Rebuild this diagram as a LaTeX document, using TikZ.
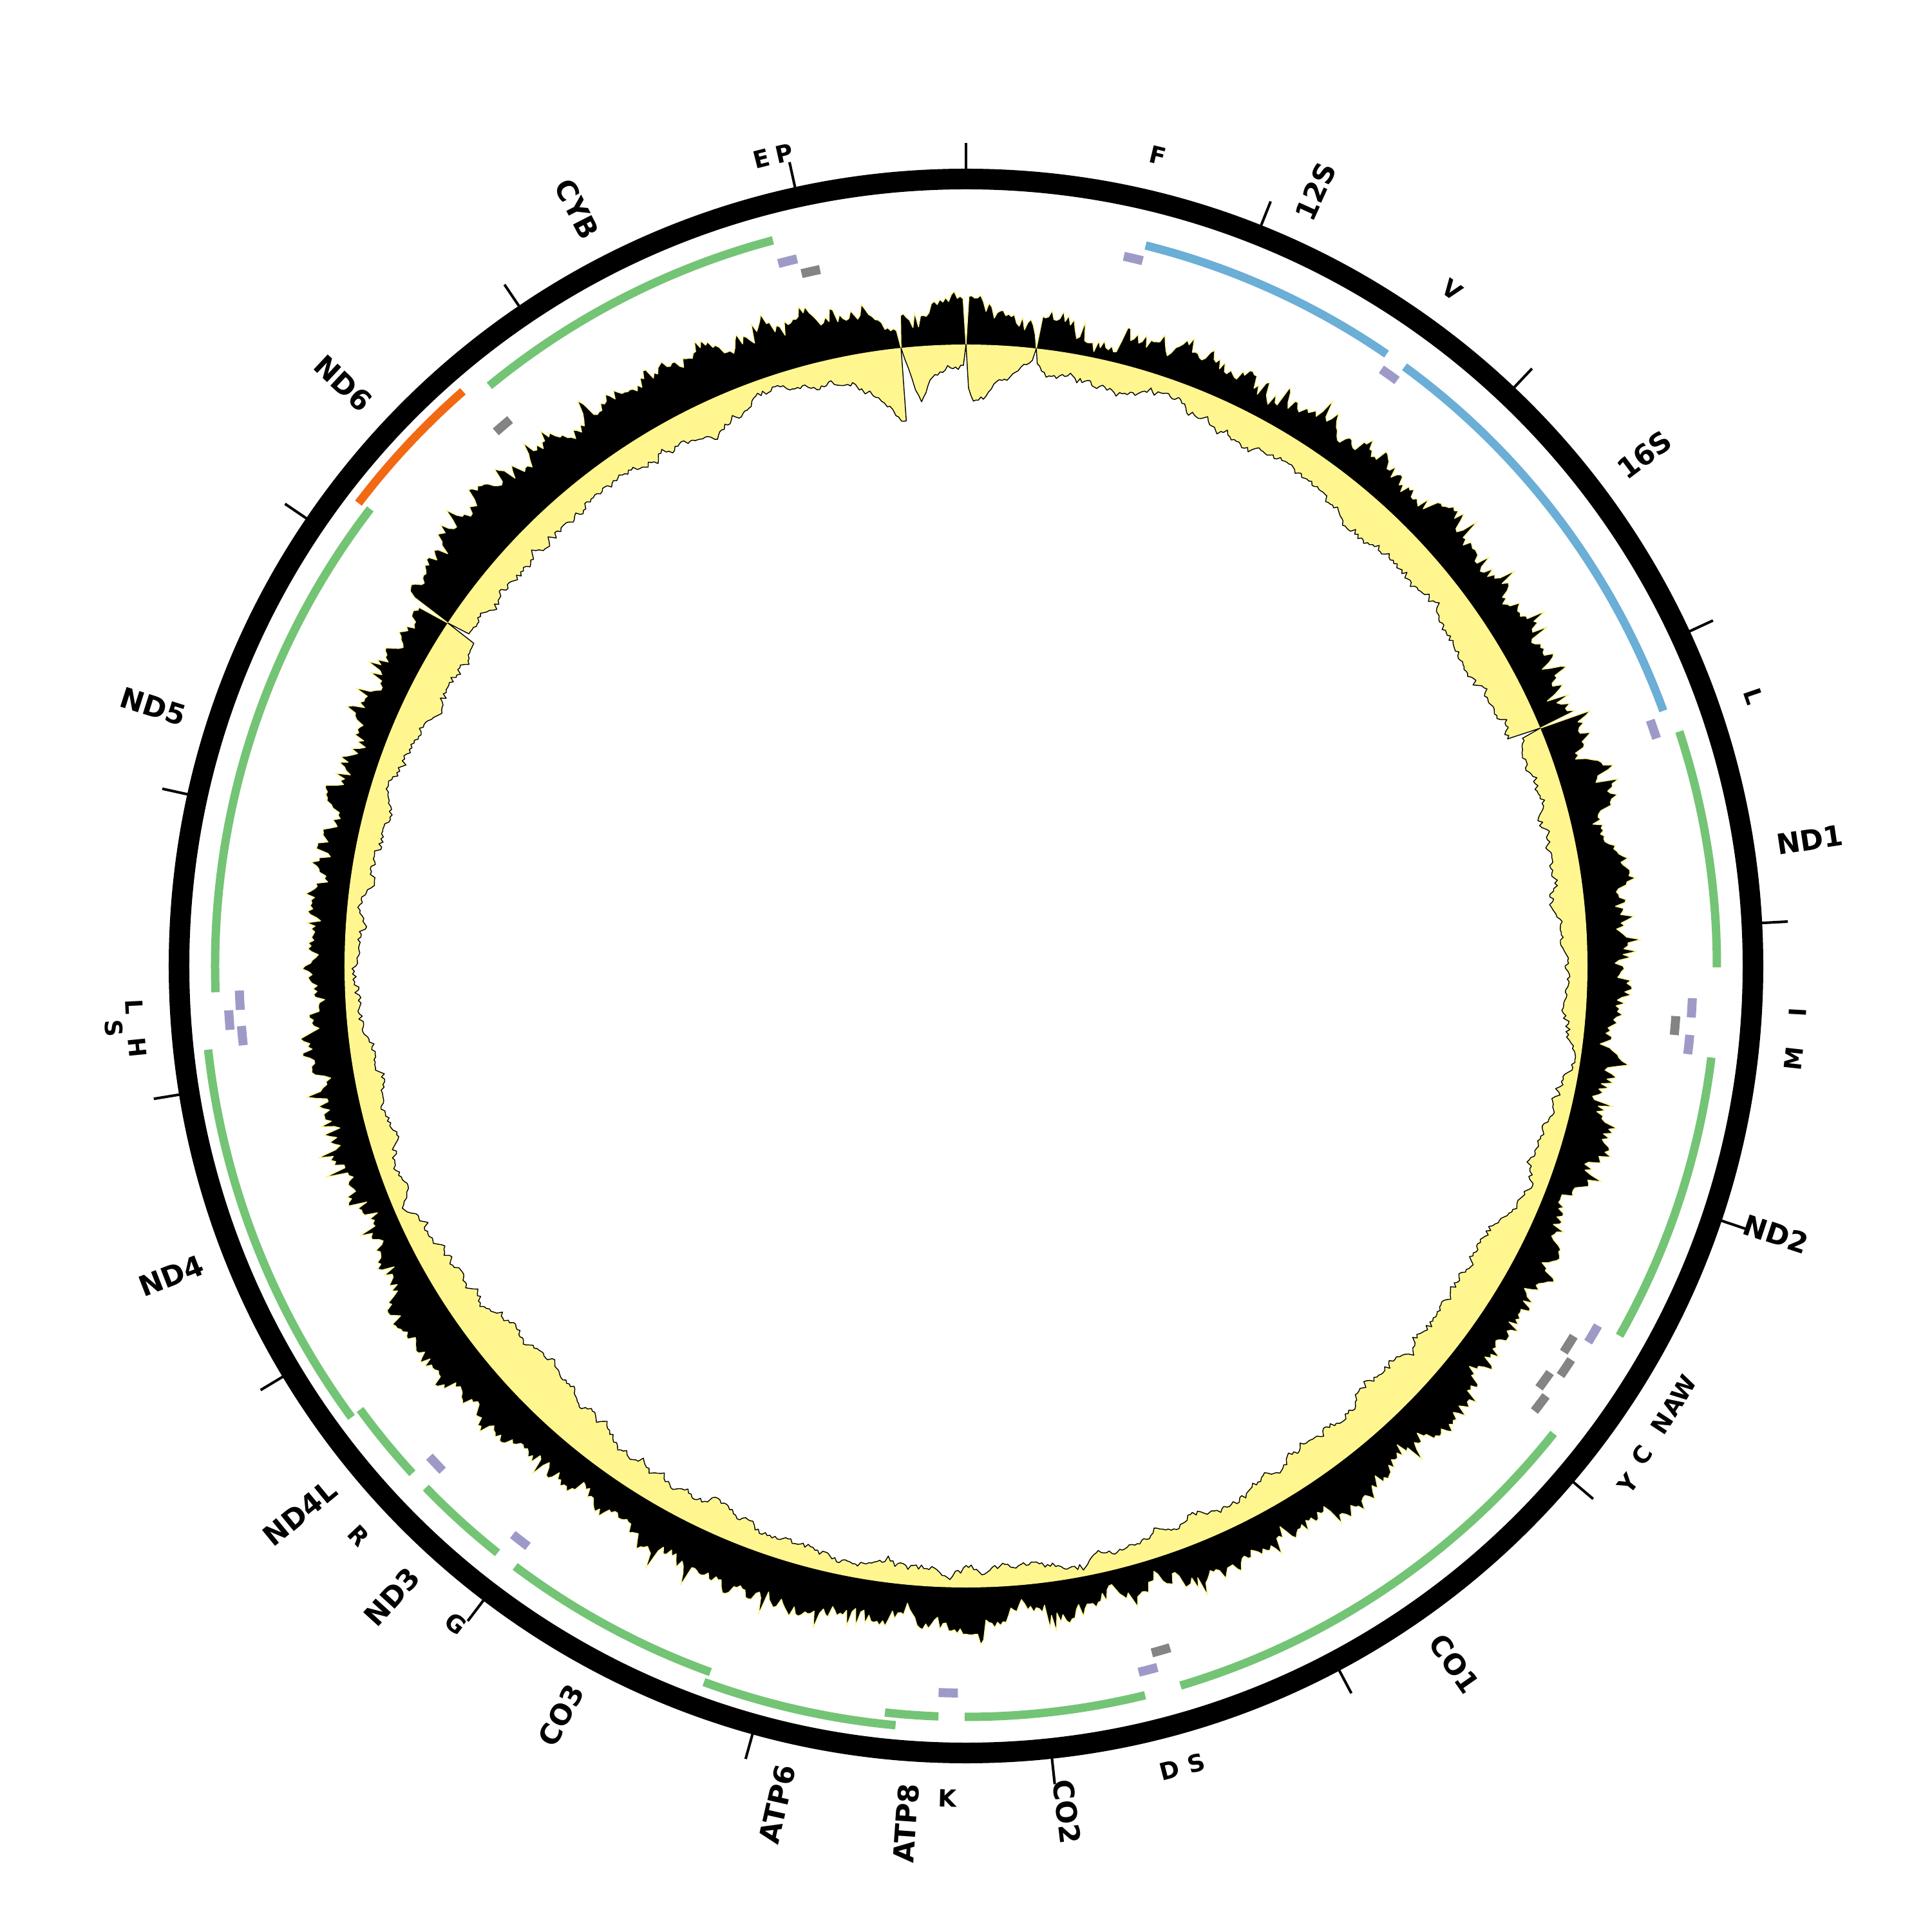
\documentclass[tikz,border=0pt]{standalone}
\usepackage{fontspec}
\setmainfont{DejaVu Sans}
\definecolor{gGreen}{HTML}{74C476}
\definecolor{gBlue}{HTML}{6BAED6}
\definecolor{gPurple}{HTML}{9E9AC8}
\definecolor{gGray}{HTML}{848484}
\definecolor{gOrange}{HTML}{F16913}
\definecolor{gcyel}{HTML}{FFF68F}
\tikzset{
  genearc/.style={line width=0.13cm, draw=gGreen},
  rrnaarc/.style={line width=0.13cm, draw=gBlue},
  minusgene/.style={line width=0.13cm, draw=gOrange},
  trnaplus/.style={line width=0.14cm, draw=gPurple},
  trnaminus/.style={line width=0.14cm, draw=gGray},
  tickline/.style={line width=1.15pt, draw=black},
  glab/.style={font=\fontsize{12.5}{12.5}\selectfont\bfseries, inner sep=0pt, text=black},
  tlab/.style={font=\fontsize{10.5}{10.5}\selectfont\bfseries, inner sep=0pt, text=black},
}
\newcommand\garc[4]{\draw[#4] ({90-(#1)}:#3) arc[start angle={90-(#1)}, end angle={90-(#2)}, radius=#3];}
\newcommand\tmark[3]{\garc{#1-0.76}{#1+0.76}{#2}{#3}}
\begin{document}
\begin{tikzpicture}
\useasboundingbox (-15,-15) rectangle (15,15);
% ---------- GC track data (random walk around a profile) ----------
\pgfmathsetseed{4242}
\gdef\myXw{0}\gdef\myZw{0}
\xdef\blist{(90:9.65)}
\xdef\ylist{(90:9.65)}
\foreach \tb/\Bb/\Yb [remember=\tb as \ta (initially 0), remember=\Bb as \Ba (initially 70), remember=\Yb as \Ya (initially 60)] in
 {0.8/75/80, 2.4/70/65, 4/40/40, 6/20/15, 6.4/10/5, 6.6/30/10, 7.5/35/35, 13/35/35,
  20/45/30, 30/55/40, 40/60/50, 50/55/60, 60/50/55, 67.4/40/50, 67.6/65/35, 75/60/40,
  85/50/35, 95/45/30, 110/50/35, 125/55/45, 140/55/55, 155/50/45, 165/45/30, 180/45/25,
  195/65/30, 210/50/40, 225/60/42, 235/70/35, 250/50/35, 270/50/35, 285/50/40,
  303.4/50/50, 303.6/75/25, 320/80/35, 335/70/40, 347/80/25, 351/60/60, 353.9/25/115,
  354.1/60/10, 355.4/60/85, 356.5/60/45, 360/65/35}{
  \pgfmathtruncatemacro\myKa{ceil(\ta*4-0.0001)}
  \pgfmathtruncatemacro\myKb{ceil(\tb*4-0.0001)-1}
  \ifnum\myKa>\myKb\else
  \foreach \kk in {\myKa,...,\myKb}{
    \ifnum\kk=0\else
      \pgfmathsetmacro\myTh{\kk/4}
      \pgfmathsetmacro\myT{(\myTh-\ta)/(\tb-\ta)}
      \pgfmathsetmacro\myBt{\Ba+(\Bb-\Ba)*\myT}
      \pgfmathsetmacro\myYt{\Ya+(\Yb-\Ya)*\myT}
      \pgfmathsetmacro\myXn{0.85*\myXw+9*rand}
      \pgfmathsetmacro\myZn{0.96*\myZw+4.5*rand}
      \xdef\myXw{\myXn}\xdef\myZw{\myZn}
      \pgfmathsetmacro\mySpk{max(rand-0.75,0)*100}
      \pgfmathsetmacro\myBv{max(\myBt+\myXn+7*rand+\mySpk,3)}
      \pgfmathsetmacro\myYv{max(\myYt+\myZn+3*rand,2)}
      \pgfmathparse{(\kk==26)||(\kk==270)||(\kk==1214)||(\kk==1416)}
      \ifdim\pgfmathresult pt>0.5pt \def\myBv{0}\def\myYv{0}\fi
      \pgfmathsetmacro\myPh{90-\myTh}
      \pgfmathsetmacro\myRb{9.65+\myBv/100}
      \pgfmathsetmacro\myRy{9.65-\myYv/100}
      \xdef\blist{\blist -- (\myPh:\myRb)}
      \xdef\ylist{\ylist -- (\myPh:\myRy)}
    \fi
  }\fi
}
\edef\mydrawa{\noexpand\filldraw[fill=black, draw=gcyel, line width=0.4pt, line join=round] \blist -- cycle;}
\mydrawa
\fill[gcyel] (0,0) circle[radius=9.65];
\edef\mydrawb{\noexpand\filldraw[fill=white, draw=black, line width=0.4pt, line join=round] \ylist -- cycle;}
\mydrawb
% ---------- outer ring and ticks ----------
\draw[line width=0.32cm] (0,0) circle[radius=12.22];
\foreach \i in {0,...,16}{
  \draw[tickline] ({90-\i*21.726}:12.3) -- ({90-\i*21.726}:12.78);
}
% ---------- genes ----------
\garc{14.0}{34.5}{11.53}{rrnaarc}
\garc{36.2}{69.9}{11.53}{rrnaarc}
\garc{71.8}{90.1}{11.66}{genearc}
\garc{97.0}{119.5}{11.66}{genearc}
\garc{128.5}{163.4}{11.66}{genearc}
\garc{166.2}{180.1}{11.66}{genearc}
\garc{182.1}{186.2}{11.66}{genearc}
\garc{185.3}{200.1}{11.84}{genearc}
\garc{199.9}{216.9}{11.66}{genearc}
\garc{218.6}{226.0}{11.66}{genearc}
\garc{227.5}{233.8}{11.66}{genearc}
\garc{233.7}{263.7}{11.84}{genearc}
\garc{268.0}{307.5}{11.66}{genearc}
\garc{307.3}{318.8}{11.86}{minusgene}
\garc{320.6}{345.1}{11.66}{genearc}
% ---------- tRNAs ----------
\tmark{13.3}{11.29}{trnaplus}
\tmark{35.6}{11.29}{trnaplus}
\tmark{71.0}{11.29}{trnaplus}
\tmark{93.3}{11.29}{trnaplus}
\tmark{94.8}{11.05}{trnaminus}
\tmark{96.2}{11.29}{trnaplus}
\tmark{120.4}{11.29}{trnaplus}
\tmark{122.1}{11.05}{trnaminus}
\tmark{123.8}{11.21}{trnaminus}
\tmark{125.6}{11.05}{trnaminus}
\tmark{127.3}{11.21}{trnaminus}
\tmark{164.1}{11.05}{trnaminus}
\tmark{165.5}{11.29}{trnaplus}
\tmark{181.4}{11.29}{trnaplus}
\tmark{217.8}{11.29}{trnaplus}
\tmark{226.8}{11.29}{trnaplus}
\tmark{264.5}{11.29}{trnaplus}
\tmark{265.8}{11.47}{trnaplus}
\tmark{267.3}{11.29}{trnaplus}
\tmark{319.4}{11.05}{trnaminus}
\tmark{345.8}{11.29}{trnaplus}
\tmark{347.4}{11.05}{trnaminus}
% ---------- gene labels ----------
\node[glab, rotate=65.7, anchor=west] (l12S) at ({90-24.3}:12.72) {12S};
\node[glab, rotate=37.0, anchor=west] (l16S) at ({90-53.0}:12.72) {16S};
\node[glab, rotate=8.5, anchor=west] (lND1) at ({90-81.5}:12.72) {ND1};
\node[glab, rotate=-18.3, anchor=west] (lND2) at ({90-108.3}:12.72) {ND2};
\node[glab, rotate=-55.0, anchor=west] (lCO1) at ({90-145.0}:12.72) {CO1};
\node[glab, rotate=-83.2, anchor=west] (lCO2) at ({90-173.2}:12.72) {CO2};
\node[glab, rotate=86.0, anchor=east] (lATP8) at ({90-184.0}:12.72) {ATP8};
\node[glab, rotate=77.3, anchor=east] (lATP6) at ({90-192.7}:12.72) {ATP6};
\node[glab, rotate=61.6, anchor=east] (lCO3) at ({90-208.4}:12.72) {CO3};
\node[glab, rotate=47.7, anchor=east] (lND3) at ({90-222.3}:12.72) {ND3};
\node[glab, rotate=39.4, anchor=east] (lND4L) at ({90-230.6}:12.72) {ND4L};
\node[glab, rotate=21.3, anchor=east] (lND4) at ({90-248.7}:12.72) {ND4};
\node[glab, rotate=-17.7, anchor=east] (lND5) at ({90-287.7}:12.72) {ND5};
\node[glab, rotate=-43.1, anchor=east] (lND6) at ({90-313.1}:12.72) {ND6};
\node[glab, rotate=-62.8, anchor=east] (lCYB) at ({90-332.8}:12.72) {CYB};
% ---------- tRNA labels ----------
\node[tlab, rotate=-13.3] (tF) at ({90-13.3}:12.93) {F};
\node[tlab, rotate=-35.7] (tV) at ({90-35.7}:12.93) {V};
\node[tlab, rotate=-71.1] (tL1) at ({90-71.1}:12.93) {L};
\node[tlab, rotate=86.8] (tI) at ({90-93.2}:12.93) {I};
\node[tlab, rotate=83.6] (tM) at ({90-96.4}:12.93) {M};
\node[tlab, rotate=59.5] (tW) at ({90-120.5}:12.93) {W};
\node[tlab, rotate=58.1] (tA) at ({90-121.9}:12.93) {A};
\node[tlab, rotate=56.7] (tN) at ({90-123.3}:12.93) {N};
\node[tlab, rotate=54.0] (tC) at ({90-125.9}:12.96) {C};
\node[tlab, rotate=52.0] (tY) at ({90-128.0}:13.05) {Y};
\node[tlab, rotate=16.1] (tS1) at ({90-163.9}:12.88) {S};
\node[tlab, rotate=14.2] (tD) at ({90-165.8}:12.88) {D};
\node[tlab, rotate=-1.3] (tK) at ({90-181.3}:12.93) {K};
\node[tlab, rotate=-37.8] (tG) at ({90-217.8}:12.93) {G};
\node[tlab, rotate=-46.8] (tR) at ({90-226.8}:12.93) {R};
\node[tlab, rotate=-84.4] (tH) at ({90-264.4}:12.93) {H};
\node[tlab, rotate=-85.8] (tS2) at ({90-265.8}:13.27) {S};
\node[tlab, rotate=-87.2] (tL2) at ({90-267.2}:12.93) {L};
\node[tlab, rotate=14.2] (tE) at ({90-345.8}:12.93) {E};
\node[tlab, rotate=12.6] (tP) at ({90-347.4}:12.93) {P};
\end{tikzpicture}
\end{document}
